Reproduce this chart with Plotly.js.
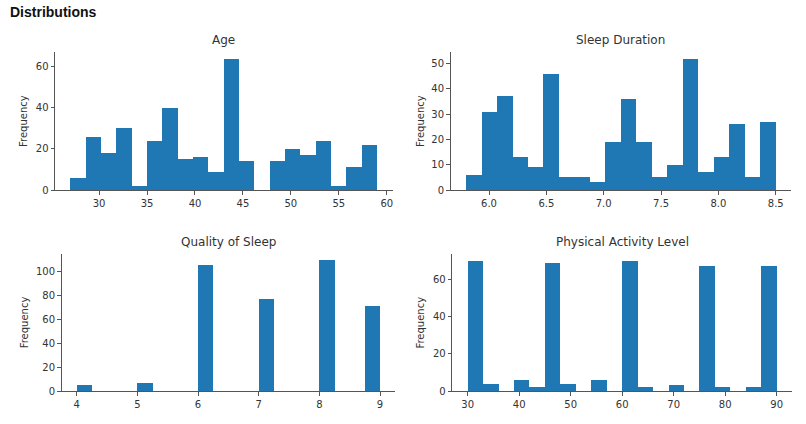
<!DOCTYPE html>
<html>
<head>
<meta charset="utf-8">
<script src="https://cdn.plot.ly/plotly-3.0.1.min.js"></script>
<style>
  html, body { margin: 0; padding: 0; background: #ffffff; }
  #chart { width: 806px; height: 424px; }
</style>
</head>
<body>
<div id="chart"></div>
<script>
// ---- Data (20-bin histograms) ----
const panelTitles = ["Age", "Sleep Duration", "Quality of Sleep", "Physical Activity Level"];

const ageRange = [27, 59];
const ageCounts = [6, 26, 18, 30, 2, 24, 40, 15, 16, 9, 64, 14, 0, 14, 20, 17, 24, 2, 11, 22];

const sleepRange = [5.8, 8.5];
const sleepCounts = [6, 31, 37, 13, 9, 46, 5, 5, 3, 19, 36, 19, 5, 10, 52, 7, 13, 26, 5, 27];

const qualityRange = [4, 9];
const qualityCounts = [5, 0, 0, 0, 7, 0, 0, 0, 105, 0, 0, 0, 77, 0, 0, 0, 109, 0, 0, 71];

const activityRange = [30, 90];
const activityCounts = [70, 4, 0, 6, 2, 69, 4, 0, 6, 0, 70, 2, 0, 3, 0, 67, 2, 0, 2, 67];

const ageXTicks = [30, 35, 40, 45, 50, 55, 60];
const ageYTicks = [0, 20, 40, 60];
const sleepXTicks = [6.0, 6.5, 7.0, 7.5, 8.0, 8.5];
const sleepYTicks = [0, 10, 20, 30, 40, 50];
const qualityXTicks = [4, 5, 6, 7, 8, 9];
const qualityYTicks = [0, 20, 40, 60, 80, 100];
const activityXTicks = [30, 40, 50, 60, 70, 80, 90];
const activityYTicks = [0, 20, 40, 60];

// ---- Build ----
const W = 806, H = 424;
const barColor = "#1f77b4";
const axisColor = "#555555";
const textColor = "#333333";
const font = "DejaVu Sans, sans-serif";

function histTrace(range, counts, xa, ya) {
  const n = counts.length;
  const w = (range[1] - range[0]) / n;
  const centers = counts.map((_, i) => range[0] + (i + 0.5) * w);
  return {
    type: "bar", x: centers, y: counts, width: w,
    xaxis: xa, yaxis: ya,
    marker: { color: barColor, line: { width: 0 } },
    hoverinfo: "x+y", showlegend: false
  };
}

function padRange(r, frac) {
  const d = (r[1] - r[0]) * frac;
  return [r[0] - d, r[1] + d];
}

const panels = [
  { range: ageRange, counts: ageCounts, xt: ageXTicks, yt: ageYTicks, fmt: "", px: [55, 392.5], py: [52, 190] },
  { range: sleepRange, counts: sleepCounts, xt: sleepXTicks, yt: sleepYTicks, fmt: ".1f", px: [450.6, 791.2], py: [52, 190] },
  { range: qualityRange, counts: qualityCounts, xt: qualityXTicks, yt: qualityYTicks, fmt: "", px: [61.5, 395.2], py: [253.7, 391] },
  { range: activityRange, counts: activityCounts, xt: activityXTicks, yt: activityYTicks, fmt: "", px: [452.2, 792.1], py: [254.2, 391] }
];

const traces = [];
const layout = {
  width: W, height: H,
  margin: { l: 0, r: 0, t: 0, b: 0 },
  paper_bgcolor: "#ffffff", plot_bgcolor: "#ffffff",
  font: { family: font, size: 10, color: textColor },
  bargap: 0,
  annotations: [],
  showlegend: false
};

layout.annotations.push({
  text: "<b>Distributions</b>", xref: "paper", yref: "paper",
  x: 8 / W, y: 1 - 12 / H, xanchor: "left", yanchor: "middle",
  showarrow: false, font: { family: "Liberation Sans, Arial, sans-serif", size: 14, color: "#111111" }
});

panels.forEach((p, i) => {
  const k = i === 0 ? "" : String(i + 1);
  const xa = "x" + k, ya = "y" + k;
  traces.push(histTrace(p.range, p.counts, xa, ya));
  const maxC = Math.max(...p.counts);
  const xDom = [p.px[0] / W, p.px[1] / W];
  const yDom = [1 - p.py[1] / H, 1 - p.py[0] / H];
  layout["xaxis" + k] = {
    domain: xDom, anchor: ya, range: padRange(p.range, 0.05),
    tickvals: p.xt, tickformat: p.fmt, ticks: "outside", ticklen: 3.5, tickwidth: 1,
    tickcolor: axisColor, showline: true, linecolor: axisColor, linewidth: 1,
    showgrid: false, zeroline: false, tickfont: { size: 10, color: textColor, family: font }
  };
  layout["yaxis" + k] = {
    domain: yDom, anchor: xa, range: [0, maxC * 1.05],
    tickvals: p.yt, ticks: "outside", ticklen: 3.5, tickwidth: 1,
    tickcolor: axisColor, showline: true, linecolor: axisColor, linewidth: 1,
    showgrid: false, zeroline: false, tickfont: { size: 10, color: textColor, family: font }
  };
  // subplot title
  layout.annotations.push({
    text: panelTitles[i], xref: "paper", yref: "paper",
    x: (xDom[0] + xDom[1]) / 2, y: 1 - (p.py[0] - 12) / H,
    xanchor: "center", yanchor: "middle", showarrow: false,
    font: { family: font, size: 12, color: textColor }
  });
  // y-axis label
  layout.annotations.push({
    text: "Frequency", xref: "paper", yref: "paper",
    x: (i % 2 === 0 ? 23 : 420) / W + (i === 2 ? 1 / W : 0) + (i === 3 ? 1 / W : 0),
    y: (yDom[0] + yDom[1]) / 2,
    xanchor: "center", yanchor: "middle", textangle: -90, showarrow: false,
    font: { family: font, size: 10, color: textColor }
  });
});

Plotly.newPlot("chart", traces, layout, { displayModeBar: false, staticPlot: true });
</script>
</body>
</html>
